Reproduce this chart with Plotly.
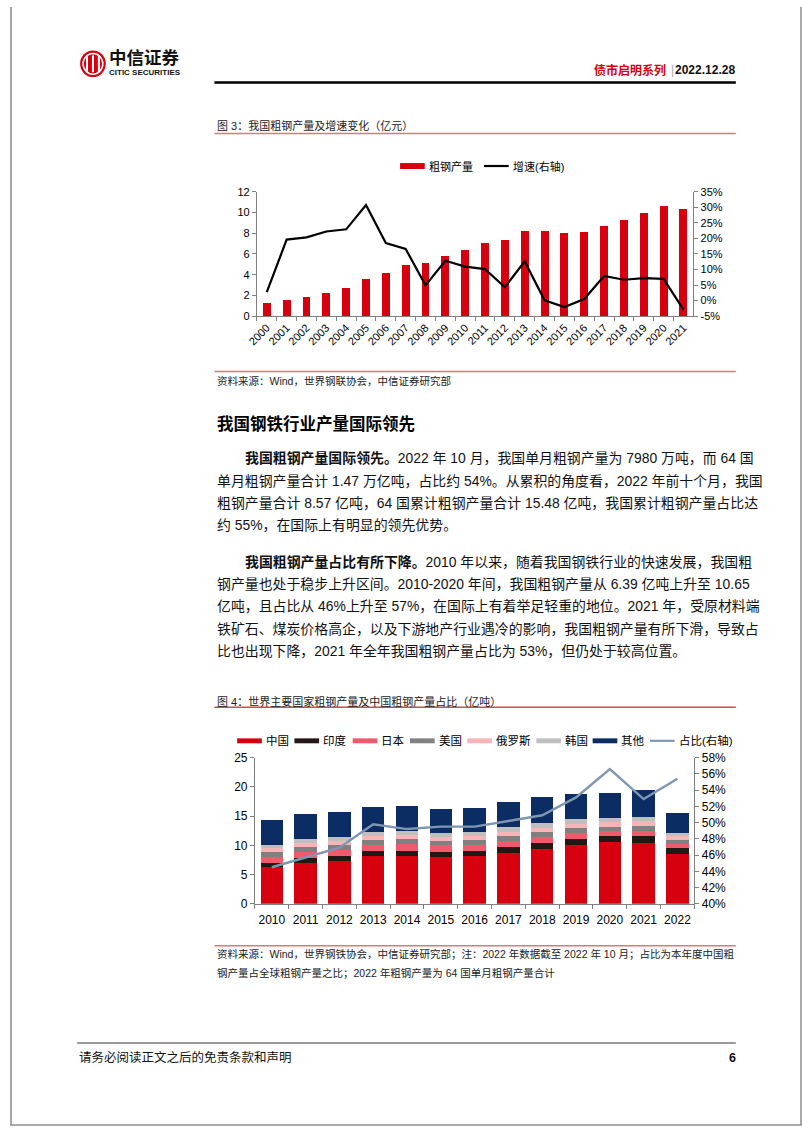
import plotly.graph_objects as go

W, H = 802, 1133

# ---------------- data: figure 3 ----------------
years1 = [str(y) for y in range(2000, 2022)]
output1 = [1.29, 1.52, 1.82, 2.22, 2.72, 3.55, 4.19, 4.89, 5.12, 5.77, 6.39, 7.02,
           7.31, 8.22, 8.23, 8.04, 8.08, 8.71, 9.28, 9.96, 10.65, 10.33]
growth1 = [2.7, 19.6, 20.3, 22.2, 22.9, 30.7, 18.5, 16.6, 4.9, 12.8, 10.9, 10.1,
           4.3, 12.6, 0.1, -2.1, 0.5, 7.9, 6.7, 7.2, 7.0, -2.9]
ticks_left1 = [0, 2, 4, 6, 8, 10, 12]
ticks_right1 = [-5, 0, 5, 10, 15, 20, 25, 30, 35]
ticktext_right1 = ["-5%", "0%", "5%", "10%", "15%", "20%", "25%", "30%", "35%"]
names1 = ["粗钢产量", "增速(右轴)"]

# ---------------- data: figure 4 ----------------
years2 = [str(y) for y in range(2010, 2023)]
china = [6.30, 7.05, 7.35, 8.16, 8.22, 8.05, 8.10, 8.75, 9.29, 10.02, 10.64, 10.36, 8.57]
india = [0.68, 0.70, 0.77, 0.81, 0.87, 0.89, 0.95, 1.01, 1.09, 1.11, 1.00, 1.18, 0.95]
japan = [1.10, 1.08, 1.07, 1.11, 1.10, 1.05, 1.05, 1.05, 1.04, 0.99, 0.83, 0.96, 0.75]
usa = [0.80, 0.86, 0.89, 0.87, 0.88, 0.79, 0.78, 0.82, 0.87, 0.88, 0.73, 0.86, 0.68]
russia = [0.67, 0.69, 0.70, 0.69, 0.71, 0.71, 0.71, 0.71, 0.72, 0.72, 0.72, 0.76, 0.62]
korea = [0.58, 0.68, 0.69, 0.66, 0.72, 0.70, 0.69, 0.71, 0.72, 0.71, 0.67, 0.70, 0.55]
others = [4.20, 4.30, 4.20, 4.20, 4.30, 4.10, 4.10, 4.40, 4.50, 4.30, 4.30, 4.70, 3.36]
share = [44.5, 45.7, 46.9, 49.8, 49.2, 49.5, 49.5, 50.2, 50.9, 53.1, 56.6, 52.9, 55.4]
names2 = ["中国", "印度", "日本", "美国", "俄罗斯", "韩国", "其他", "占比(右轴)"]
ticks_right2 = [40, 42, 44, 46, 48, 50, 52, 54, 56, 58]
ticktext_right2 = [f"{v}%" for v in ticks_right2]

# ---------------- text ----------------
header_series = "债市启明系列"
header_date = "2022.12.28"
title3 = "图 3：我国粗钢产量及增速变化（亿元）"
source3 = "资料来源：Wind，世界钢联协会，中信证券研究部"
heading = "我国钢铁行业产量国际领先"
para1 = [
    "<b>我国粗钢产量国际领先。</b>2022 年 10 月，我国单月粗钢产量为 7980 万吨，而 64 国",
    "单月粗钢产量合计 1.47 万亿吨，占比约 54%。从累积的角度看，2022 年前十个月，我国",
    "粗钢产量合计 8.57 亿吨，64 国累计粗钢产量合计 15.48 亿吨，我国累计粗钢产量占比达",
    "约 55%，在国际上有明显的领先优势。",
]
para2 = [
    "<b>我国粗钢产量占比有所下降。</b>2010 年以来，随着我国钢铁行业的快速发展，我国粗",
    "钢产量也处于稳步上升区间。2010-2020 年间，我国粗钢产量从 6.39 亿吨上升至 10.65",
    "亿吨，且占比从 46%上升至 57%，在国际上有着举足轻重的地位。2021 年，受原材料端",
    "铁矿石、煤炭价格高企，以及下游地产行业遇冷的影响，我国粗钢产量有所下滑，导致占",
    "比也出现下降，2021 年全年我国粗钢产量占比为 53%，但仍处于较高位置。",
]
title4 = "图 4：世界主要国家粗钢产量及中国粗钢产量占比（亿吨）"
source4 = [
    "资料来源：Wind，世界钢铁协会，中信证券研究部；注：2022 年数据截至 2022 年 10 月；占比为本年度中国粗",
    "钢产量占全球粗钢产量之比；2022 年粗钢产量为 64 国单月粗钢产量合计",
]
footer = "请务必阅读正文之后的免责条款和声明"
page_no = "6"

# ---------------- styles ----------------
FONT = "Liberation Sans, Arial, Noto Sans CJK SC, sans-serif"
RED = "#D7000F"
AX = "#808080"
colors2 = ["#D7000F", "#231815", "#F15A6C", "#808080", "#F7B5B8", "#BFBFBF", "#0B2D63"]
SHARE_COL = "#7F96B2"
RULE = "#E0767A"


def px(x):
    return x / W


def py(y):
    return 1 - y / H


fig = go.Figure()

# figure 3 traces
fig.add_bar(x=years1, y=output1, name=names1[0], marker=dict(color=RED, line=dict(width=0)),
            width=0.4, xaxis="x", yaxis="y", showlegend=False)
fig.add_scatter(x=years1, y=growth1, name=names1[1], mode="lines",
                line=dict(color="#000000", width=2.2), xaxis="x", yaxis="y2", showlegend=False)

# figure 4 traces
for nm, vals, col in zip(names2[:7], [china, india, japan, usa, russia, korea, others], colors2):
    fig.add_bar(x=years2, y=vals, name=nm, marker=dict(color=col, line=dict(width=0)),
                width=0.66, xaxis="x2", yaxis="y3", showlegend=False)
fig.add_scatter(x=years2, y=share, name=names2[7], mode="lines",
                line=dict(color=SHARE_COL, width=2.4), xaxis="x2", yaxis="y4", showlegend=False)

axis_common = dict(showline=True, linecolor=AX, linewidth=1, ticks="outside", ticklen=4,
                   tickcolor=AX, showgrid=False, zeroline=False,
                   tickfont=dict(family=FONT, size=11, color="#000"))
axis_big = {**axis_common, "tickfont": dict(family=FONT, size=12, color="#000")}

fig.update_layout(
    width=W, height=H, margin=dict(l=0, r=0, t=0, b=0), autosize=False,
    paper_bgcolor="white", plot_bgcolor="rgba(0,0,0,0)", barmode="stack",
    font=dict(family=FONT, color="#000"),
    xaxis=dict(domain=[px(250), px(692)], anchor="y", type="category", tickangle=-45,
               tickson="boundaries", **axis_common),
    yaxis=dict(domain=[py(313), py(187)], anchor="x", range=[0, 12], tickvals=ticks_left1,
               **axis_common),
    yaxis2=dict(overlaying="y", side="right", anchor="x", range=[-5, 35],
                tickvals=ticks_right1, ticktext=ticktext_right1, **axis_common),
    xaxis2=dict(domain=[px(248), px(693)], anchor="y3", type="category", tickangle=0,
                tickson="boundaries", ticklabelstandoff=5, **axis_big),
    yaxis3=dict(domain=[py(908), py(760)], anchor="x2", range=[0, 25], dtick=5, **axis_big),
    yaxis4=dict(overlaying="y3", side="right", anchor="x2", range=[40, 58],
                tickvals=ticks_right2, ticktext=ticktext_right2, **axis_big),
)

shapes = []
annots = []


def text(x, y, s, size=13, color="#000", anchor="left", bold=False):
    if bold:
        s = f"<b>{s}</b>"
    annots.append(dict(x=px(x), y=py(y), xref="paper", yref="paper", text=s, showarrow=False,
                       xanchor=anchor, yanchor="middle",
                       font=dict(family=FONT, size=size, color=color), borderpad=0))


def hline(x0, x1, y, color, width):
    shapes.append(dict(type="line", xref="paper", yref="paper", x0=px(x0), x1=px(x1),
                       y0=py(y), y1=py(y), line=dict(color=color, width=width)))


def rect(x0, x1, y0, y1, color):
    shapes.append(dict(type="rect", xref="paper", yref="paper", x0=px(x0), x1=px(x1),
                       y0=py(y1), y1=py(y0), fillcolor=color, line=dict(width=0)))


# page border
shapes.append(dict(type="line", xref="paper", yref="paper", x0=px(1), x1=px(1), y0=py(1132), y1=py(0),
                   line=dict(color="#8c8c8c", width=1.5)))
shapes.append(dict(type="line", xref="paper", yref="paper", x0=px(801), x1=px(801), y0=py(1132), y1=py(0),
                   line=dict(color="#8c8c8c", width=1.5)))
hline(0, 802, 1132, "#8c8c8c", 1.5)

# header: logo
shapes.append(dict(type="circle", xref="paper", yref="paper", x0=px(71), x1=px(97), y0=py(71), y1=py(44),
                   fillcolor="#D7000F", line=dict(width=0)))
for lx in (78, 84, 90):
    shapes.append(dict(type="line", xref="paper", yref="paper", x0=px(lx), x1=px(lx), y0=py(66), y1=py(49),
                       line=dict(color="white", width=2)))
shapes.append(dict(type="circle", xref="paper", yref="paper", x0=px(74), x1=px(94), y0=py(68), y1=py(47),
                   fillcolor="rgba(0,0,0,0)", line=dict(color="white", width=1.5)))
text(99, 52, "中信证券", size=17.5, color="#111", bold=True)
text(99, 66, "CITIC SECURITIES", size=8, color="#111", bold=True)
text(665, 64, header_series, size=12, color=RED, anchor="right", bold=True)
text(671, 64, "|", size=12, color="#aaaaaa", anchor="center")
text(735, 64, header_date, size=12, color="#111", anchor="right", bold=True)
hline(207, 735, 76.5, "#000", 2.5)

# figure 3
text(209, 120, title3, size=11, color="#222")
hline(207, 735, 128, RULE, 1.5)
rect(395, 420, 158, 164, RED)
text(423, 161, names1[0], size=11)
hline(480, 505, 161, "#000", 2.2)
text(508, 161, names1[1], size=11)
hline(207, 735, 369, RULE, 1.5)
text(209, 379, source3, size=10.5, color="#222")

# body text
BODY = 13.9
text(209, 422, heading, size=16.5, color="#000", bold=True)
ys1 = [457, 479.5, 502, 524.5]
for i, (ln, yy) in enumerate(zip(para1, ys1)):
    text(237 if i == 0 else 209, yy, ln, size=BODY, color="#111")
ys2 = [562, 584.5, 607, 630, 652.5]
for i, (ln, yy) in enumerate(zip(para2, ys2)):
    text(237 if i == 0 else 209, yy, ln, size=BODY, color="#111")

# figure 4
text(209, 703, title4, size=11, color="#222")
hline(207, 735, 709, "#D9484F", 1.5)
leg_x = [230, 288, 347, 405, 463, 533, 590]
for nm, col, lx in zip(names2[:7], colors2, leg_x):
    rect(lx, lx + 25, 740.5, 745.5, col)
    text(lx + 28, 743, nm, size=11.5)
hline(648, 673, 743, SHARE_COL, 2.2)
text(676, 743, names2[7], size=11.5)
hline(207, 735, 950.5, RULE, 1.5)
text(209, 959, source4[0], size=10.5, color="#222")
text(209, 978, source4[1], size=10.5, color="#222")

# footer
hline(68, 735, 1049, "#9a9a9a", 2)
text(69, 1064, footer, size=12.5, color="#111")
text(736, 1064, page_no, size=12.5, color="#111", anchor="right", bold=True)

fig.update_layout(shapes=shapes, annotations=annots)
fig.write_html("out.html")
